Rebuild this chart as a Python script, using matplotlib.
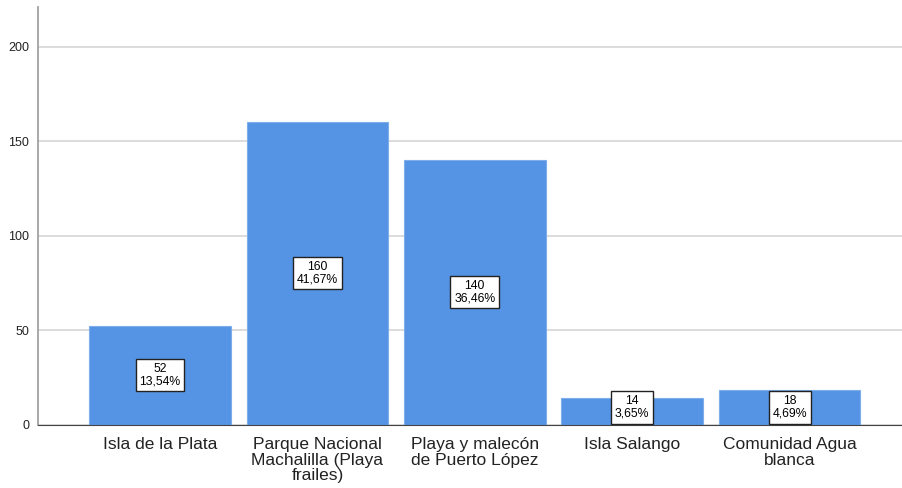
import matplotlib.pyplot as plt
import numpy as np

plt.rcParams['font.family'] = ['Liberation Sans', 'DejaVu Sans']

lugares = ['Isla de la Plata', 'Parque Nacional\nMachalilla (Playa\nfrailes)',
           'Playa y malecón\nde Puerto López', 'Isla Salango', 'Comunidad Agua\nblanca']
frecuencias = [52, 160, 140, 14, 18]
porcentajes = ['13,54%', '41,67%', '36,46%', '3,65%', '4,69%']

fig = plt.figure(figsize=(9.02, 4.88), dpi=100)
ax = fig.add_axes([37.5 / 902, 1 - 424.5 / 488, (902 - 37.5) / 902, (424.5 - 7) / 488])

x = np.arange(len(frecuencias))
ax.bar(x, frecuencias, width=0.9, color='#5594e4', edgecolor='#7eaeea', linewidth=0.8, zorder=2)

ax.set_xlim(-0.778, 4.714)
ax.set_ylim(0, 221)
ax.set_yticks([0, 50, 100, 150, 200])
ax.yaxis.grid(True, color='#d6d6d6', linewidth=1.2, zorder=0)
ax.set_xticks(x)
ax.set_xticklabels(lugares, fontsize=12.5, color='#222222', linespacing=1.05)
ax.tick_params(axis='both', length=0)
ax.tick_params(axis='y', labelsize=9, pad=6, labelcolor='#222222')
ax.tick_params(axis='x', pad=9)

for s in ['top', 'right']:
    ax.spines[s].set_visible(False)
ax.spines['left'].set_color('#999999')
ax.spines['bottom'].set_color('#444444')
ax.spines['left'].set_linewidth(1.2)

# etiquetas de las barras
for xi, v, p in zip(x, frecuencias, porcentajes):
    y = max(v / 2, 9.0)
    ax.text(xi, y, f'{v}\n{p}', ha='center', va='center', fontsize=8.8,
            linespacing=1.1, zorder=3,
            bbox=dict(boxstyle='square,pad=0.3', facecolor='white', edgecolor='#222222', linewidth=1))

fig.savefig('out.png', dpi=100)
